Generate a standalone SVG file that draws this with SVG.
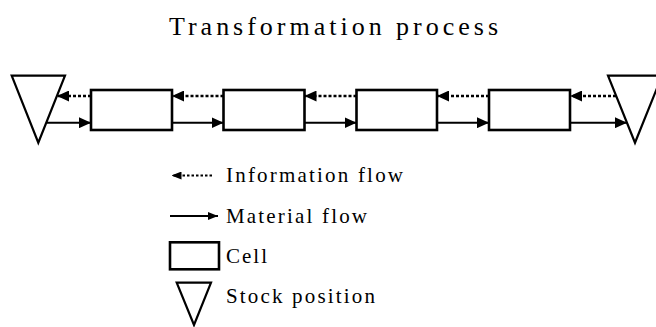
<svg xmlns="http://www.w3.org/2000/svg" width="656" height="327" viewBox="0 0 656 327">
<defs>
<marker id="ah" markerUnits="userSpaceOnUse" markerWidth="12" markerHeight="11" refX="12" refY="5.5" orient="auto"><path d="M0,0 L12,5.5 L0,11 z" fill="#000"/></marker>
<marker id="ahs" markerUnits="userSpaceOnUse" markerWidth="10" markerHeight="8" refX="10" refY="4" orient="auto"><path d="M0,0 L10,4 L0,8 z" fill="#000"/></marker>
</defs>
<style>
.t{font-family:"Liberation Serif","Times New Roman","DejaVu Serif",serif;fill:#000}
.cell{fill:#fff;stroke:#000;stroke-width:2.6}
.stock{fill:#fff;stroke:#000;stroke-width:2.2;stroke-linejoin:miter}
.info{stroke:#000;stroke-width:2.4;stroke-dasharray:3,2;fill:none;marker-end:url(#ah)}
.mat{stroke:#000;stroke-width:2;fill:none;marker-end:url(#ah)}
</style>
<text class="t" font-family="Liberation Serif, serif" x="169" y="35" font-size="26" textLength="329" lengthAdjust="spacing">Transformation process</text>
<g id="stock-left"><polygon class="stock" points="11.7,75.7 65,75.7 38.3,142.7"/></g>
<g id="cell-1"><rect class="cell" x="91" y="90" width="81" height="40"/></g>
<g id="cell-2"><rect class="cell" x="223.5" y="90" width="81" height="40"/></g>
<g id="cell-3"><rect class="cell" x="356.5" y="90" width="80.5" height="40"/></g>
<g id="cell-4"><rect class="cell" x="489" y="90" width="81" height="40"/></g>
<g id="stock-right"><polygon class="stock" points="608,75.7 662,75.7 635,142.7"/></g>
<g id="connectors">
<line class="info" x1="91" y1="96" x2="57" y2="96"/>
<line class="info" x1="223.5" y1="96" x2="172" y2="96"/>
<line class="info" x1="356.5" y1="96" x2="304.5" y2="96"/>
<line class="info" x1="489" y1="96" x2="437" y2="96"/>
<line class="info" x1="616" y1="96" x2="570" y2="96"/>
<line class="mat" x1="46" y1="122.7" x2="91" y2="122.7"/>
<line class="mat" x1="172" y1="122.7" x2="223.5" y2="122.7"/>
<line class="mat" x1="304.5" y1="122.7" x2="356.5" y2="122.7"/>
<line class="mat" x1="437" y1="122.7" x2="489" y2="122.7"/>
<line class="mat" x1="570" y1="122.7" x2="627" y2="122.7"/>
</g>
<g id="legend">
<line x1="212" y1="175.5" x2="171.5" y2="175.5" stroke="#000" stroke-width="2.2" stroke-dasharray="2.5,2" marker-end="url(#ahs)"/>
<text class="t" font-family="Liberation Serif, serif" x="226" y="181.7" font-size="21" textLength="177" lengthAdjust="spacing">Information flow</text>
<line x1="170" y1="216" x2="218" y2="216" stroke="#000" stroke-width="2" marker-end="url(#ahs)"/>
<text class="t" font-family="Liberation Serif, serif" x="226" y="223" font-size="21" textLength="141" lengthAdjust="spacing">Material flow</text>
<rect class="cell" x="170" y="242.3" width="49" height="27"/>
<text class="t" font-family="Liberation Serif, serif" x="226" y="263" font-size="21" textLength="41" lengthAdjust="spacing">Cell</text>
<polygon class="stock" points="176.7,282.7 211,282.7 194,325"/>
<text class="t" font-family="Liberation Serif, serif" x="226" y="303" font-size="21" textLength="149" lengthAdjust="spacing">Stock position</text>
</g>
</svg>
